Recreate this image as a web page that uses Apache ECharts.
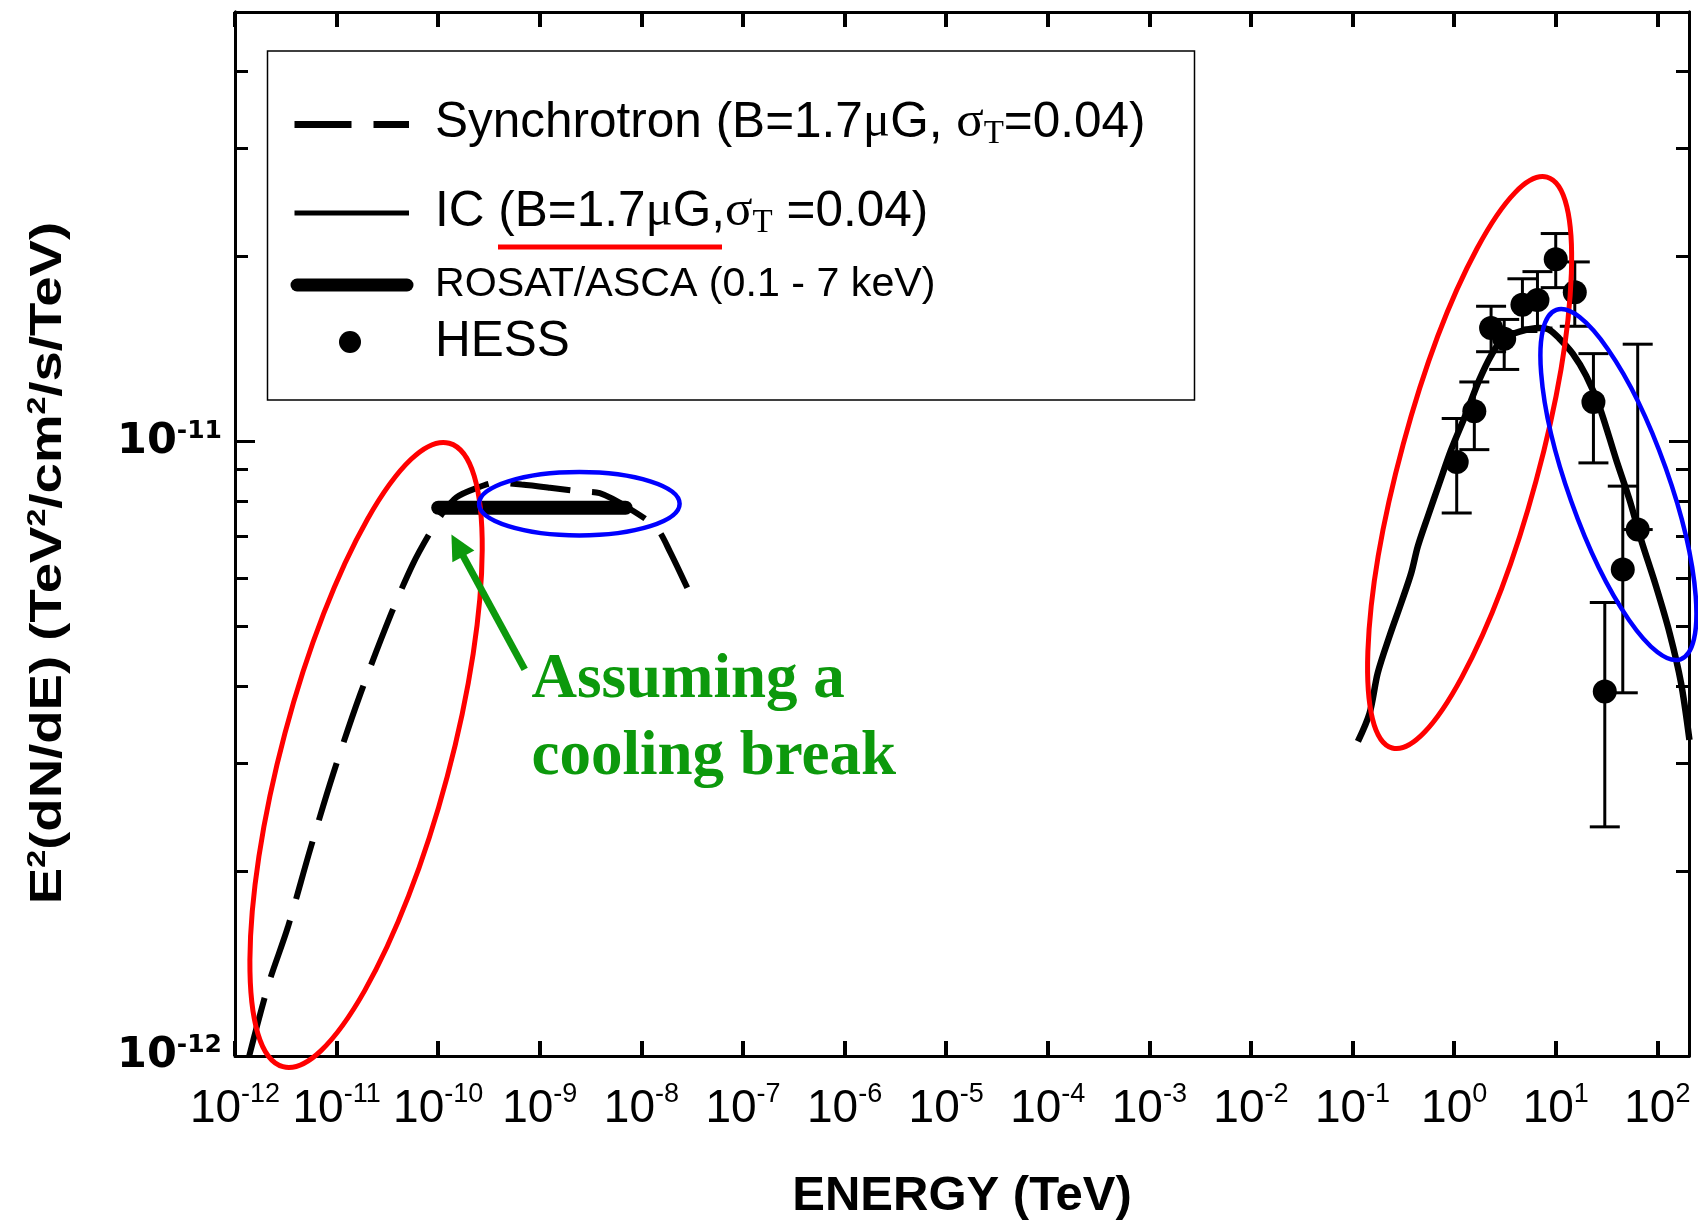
<!DOCTYPE html>
<html>
<head>
<meta charset="utf-8">
<title>SNR broadband SED</title>
<script src="https://cdn.jsdelivr.net/npm/echarts@6/dist/echarts.min.js"></script>
<style>
  html, body { margin: 0; padding: 0; background: #ffffff; }
  #chart { width: 1698px; height: 1231px; }
</style>
</head>
<body>
<div id="chart"></div>
<script>
// ---- Synchrotron model (B = 1.7 uG), energy in TeV, E^2 dN/dE in TeV/cm^2/s ----
const syncEnergy = [1.38e-12, 2.14e-12, 3.31e-12, 5.50e-12, 9.33e-12, 1.70e-11, 3.47e-11, 5.62e-11,
  8.13e-11, 1.12e-10, 1.51e-10, 2.34e-10, 3.72e-10, 6.61e-10, 1.26e-9, 2.40e-9, 3.89e-9, 7.41e-9,
  1.41e-8, 1.91e-8, 3.09e-8];
const syncFlux = [1.00e-12, 1.31e-12, 1.62e-12, 2.17e-12, 2.89e-12, 3.87e-12, 5.26e-12, 6.31e-12,
  7.06e-12, 7.67e-12, 8.11e-12, 8.39e-12, 8.57e-12, 8.51e-12, 8.41e-12, 8.30e-12, 8.24e-12, 7.80e-12,
  7.23e-12, 6.62e-12, 5.60e-12];

// ---- ROSAT/ASCA X-ray band (0.1 - 7 keV) ----
const rosatEnergy = [1e-10, 7e-9];
const rosatFlux = [7.8e-12, 7.8e-12];

// ---- Inverse Compton model ----
const icEnergy = [0.113, 0.147, 0.177, 0.231, 0.301, 0.378, 0.439, 0.551, 0.718, 0.935, 1.31, 1.77,
  2.31, 3.01, 4.40, 6.90, 8.67, 10.9, 14.7, 19.9, 26.9, 39.3, 53.1, 69.2, 97.2, 132, 171, 207];
const icFlux = [3.25e-12, 3.61e-12, 4.20e-12, 4.82e-12, 5.46e-12, 6.11e-12, 6.75e-12, 7.55e-12,
  8.57e-12, 9.70e-12, 1.11e-11, 1.26e-11, 1.38e-11, 1.47e-11, 1.51e-11, 1.53e-11, 1.52e-11, 1.47e-11,
  1.39e-11, 1.28e-11, 1.14e-11, 9.35e-12, 8.05e-12, 6.92e-12, 5.81e-12, 4.88e-12, 4.05e-12, 3.27e-12];

// ---- HESS spectral points with error bars ----
const hessEnergy = [1.06, 1.58, 2.31, 3.11, 4.70, 6.61, 10.0, 15.4, 23.5, 30.4, 45.7, 64.1];
const hessFlux = [9.26e-12, 1.12e-11, 1.53e-11, 1.47e-11, 1.67e-11, 1.70e-11, 1.98e-11, 1.75e-11,
  1.16e-11, 3.92e-12, 6.19e-12, 7.19e-12];
const hessLow = [7.65e-12, 9.70e-12, 1.40e-11, 1.31e-11, 1.51e-11, 1.53e-11, 1.78e-11, 1.54e-11,
  9.23e-12, 2.36e-12, 3.90e-12, 7.19e-12];
const hessHigh = [1.09e-11, 1.25e-11, 1.66e-11, 1.58e-11, 1.84e-11, 1.89e-11, 2.18e-11, 1.96e-11,
  1.39e-11, 5.47e-12, 8.46e-12, 1.44e-11];

// ---- Axis ticks ----
const xTicks = [1e-12, 1e-11, 1e-10, 1e-9, 1e-8, 1e-7, 1e-6, 1e-5, 1e-4, 1e-3, 1e-2, 1e-1, 1e0, 1e1, 1e2];
const xTickExponents = ['-12', '-11', '-10', '-9', '-8', '-7', '-6', '-5', '-4', '-3', '-2', '-1', '0', '1', '2'];
const yMajorTicks = [1e-12, 1e-11];
const yMajorExponents = ['-12', '-11'];
const yMinorTicks = [2e-12, 3e-12, 4e-12, 5e-12, 6e-12, 7e-12, 8e-12, 9e-12, 2e-11, 3e-11, 4e-11];

// ---- Annotation anchors (data coordinates) ----
const redLeftCenter = [1.95e-11, 3.09e-12];
const blueLeftCenter = [2.45e-9, 7.92e-12];
const redRightCenter = [1.42, 9.24e-12];
const blueRightCenter = [41.4, 8.51e-12];
const arrowTip = [1.35e-10, 7.06e-12];

const X_MIN = 1e-12, X_MAX = 205, Y_MIN = 1e-12, Y_MAX = 5e-11;
const GREEN = '#0c990c';

// Narrow sans is preferred for the energy tick labels; fall back to the regular face.
const hasNarrow = (function () {
  const ctx = document.createElement('canvas').getContext('2d');
  ctx.font = '50px "Liberation Sans Narrow", monospace';
  const a = ctx.measureText('10abcWm').width;
  ctx.font = '50px monospace';
  const b = ctx.measureText('10abcWm').width;
  return Math.abs(a - b) > 0.5;
})();
const tickFamily = hasNarrow ? '"Liberation Sans Narrow"' : '"Liberation Sans"';
const tickSize = hasNarrow ? 53 : 46;
const tickSupSize = hasNarrow ? 31 : 27;

const zip = (xs, ys) => xs.map((x, i) => [x, ys[i]]);

const chart = echarts.init(document.getElementById('chart'), null, { renderer: 'canvas' });

const axisLineStyle = { show: true, lineStyle: { color: '#000', width: 3 } };

function xAxisBase(position) {
  return {
    type: 'log', logBase: 10, min: X_MIN, max: X_MAX, position: position,
    splitLine: { show: false }, minorTick: { show: false }, minorSplitLine: { show: false },
    axisLine: axisLineStyle,
    axisTick: { show: true, inside: true, length: 15, lineStyle: { color: '#000', width: 4 }, customValues: xTicks },
    axisLabel: { show: false }
  };
}

function yAxisBase(position, ticks, len, withLabels) {
  const ax = {
    type: 'log', logBase: 10, min: Y_MIN, max: Y_MAX, position: position,
    splitLine: { show: false }, minorTick: { show: false }, minorSplitLine: { show: false },
    axisLine: axisLineStyle,
    axisTick: { show: true, inside: true, length: len, lineStyle: { color: '#000', width: 3 }, customValues: ticks },
    axisLabel: { show: false }
  };
  if (withLabels) {
    ax.axisLabel = {
      show: true, customValues: ticks, margin: 13,
      formatter: function (v) {
        const i = yMajorTicks.findIndex(t => Math.abs(Math.log10(t) - Math.log10(v)) < 1e-6);
        return '{b|10}{s|' + (i >= 0 ? yMajorExponents[i] : '') + '}';
      },
      rich: {
        b: { fontFamily: '"DejaVu Sans"', fontWeight: 'bold', fontSize: 43, color: '#000', lineHeight: 46 },
        s: { fontFamily: '"DejaVu Sans"', fontWeight: 'bold', fontSize: 25, color: '#000', verticalAlign: 'top', lineHeight: 30 }
      }
    };
  }
  return ax;
}

const xBottom = xAxisBase('bottom');
xBottom.axisLabel = {
  show: true, customValues: xTicks, margin: 25,
  formatter: function (v) {
    const i = xTicks.findIndex(t => Math.abs(Math.log10(t) - Math.log10(v)) < 1e-6);
    return '{b|10}{s|' + (i >= 0 ? xTickExponents[i] : '') + '}';
  },
  rich: {
    b: { fontFamily: tickFamily, fontSize: tickSize, color: '#000', lineHeight: 56 },
    s: { fontFamily: tickFamily, fontSize: tickSupSize, color: '#000', verticalAlign: 'top', lineHeight: 34 }
  }
};
xBottom.name = 'ENERGY (TeV)';
xBottom.nameLocation = 'middle';
xBottom.nameGap = 116;
xBottom.nameTextStyle = {
  fontFamily: hasNarrow ? '"Liberation Sans Narrow"' : '"Liberation Sans"',
  fontWeight: 'bold', fontSize: hasNarrow ? 58 : 49, color: '#000'
};

const option = {
  animation: false,
  backgroundColor: '#ffffff',
  grid: { left: 235, right: 9, top: 12, bottom: 175, containLabel: false },
  xAxis: [xBottom, xAxisBase('top')],
  yAxis: [
    yAxisBase('left', yMajorTicks, 20, true),
    yAxisBase('left', yMinorTicks, 13, false),
    yAxisBase('right', yMajorTicks, 20, false),
    yAxisBase('right', yMinorTicks, 13, false)
  ],
  series: [
    {
      name: 'Synchrotron', type: 'line', xAxisIndex: 0, yAxisIndex: 0,
      data: zip(syncEnergy, syncFlux), showSymbol: false, smooth: 0.3, silent: true, z: 2,
      lineStyle: { color: '#000', width: 6, type: [60, 22], cap: 'butt', opacity: 1 },
      emphasis: { disabled: true }
    },
    {
      name: 'ROSAT/ASCA', type: 'line', xAxisIndex: 0, yAxisIndex: 0,
      data: zip(rosatEnergy, rosatFlux), showSymbol: false, silent: true, z: 3,
      lineStyle: { color: '#000', width: 14, cap: 'round', opacity: 1 },
      emphasis: { disabled: true }
    },
    {
      name: 'IC', type: 'line', xAxisIndex: 0, yAxisIndex: 0,
      data: zip(icEnergy, icFlux), showSymbol: false, smooth: 0.3, silent: true, z: 3,
      lineStyle: { color: '#000', width: 6.5, opacity: 1 },
      emphasis: { disabled: true }
    },
    {
      name: 'HESS error', type: 'custom', xAxisIndex: 0, yAxisIndex: 0, silent: true, z: 4,
      data: hessEnergy.map((e, i) => [e, hessLow[i], hessHigh[i]]),
      encode: { x: 0, y: [1, 2] },
      renderItem: function (params, api) {
        const e = api.value(0);
        const lo = api.coord([e, api.value(1)]);
        const hi = api.coord([e, api.value(2)]);
        const cap = 15;
        const st = { stroke: '#000', lineWidth: 3 };
        return {
          type: 'group',
          children: [
            { type: 'line', shape: { x1: lo[0], y1: lo[1], x2: hi[0], y2: hi[1] }, style: st },
            { type: 'line', shape: { x1: hi[0] - cap, y1: hi[1], x2: hi[0] + cap, y2: hi[1] }, style: st },
            { type: 'line', shape: { x1: lo[0] - cap, y1: lo[1], x2: lo[0] + cap, y2: lo[1] }, style: st }
          ]
        };
      }
    },
    {
      name: 'HESS', type: 'scatter', xAxisIndex: 0, yAxisIndex: 0,
      data: zip(hessEnergy, hessFlux), symbol: 'circle', symbolSize: 24, silent: true, z: 5,
      itemStyle: { color: '#000', opacity: 1 },
      emphasis: { disabled: true }
    }
  ]
};

chart.setOption(option);

// ---- Legend box, axis title and annotations ----
function buildGraphics() {
  const px = v => chart.convertToPixel({ xAxisIndex: 0, yAxisIndex: 0 }, v);
  const els = [];
  const legendFont = '"Liberation Sans"';

  // legend frame
  els.push({ type: 'rect', shape: { x: 267.5, y: 51, width: 927, height: 349 },
    style: { fill: '#fff', stroke: '#000', lineWidth: 1.5 }, z: 50 });

  // legend samples
  els.push({ type: 'line', shape: { x1: 294.5, y1: 124.5, x2: 409, y2: 124.5 },
    style: { stroke: '#000', lineWidth: 7, lineDash: [57, 22] }, z: 51 });
  els.push({ type: 'line', shape: { x1: 294.5, y1: 213, x2: 409, y2: 213 },
    style: { stroke: '#000', lineWidth: 5 }, z: 51 });
  els.push({ type: 'line', shape: { x1: 297, y1: 285, x2: 407, y2: 285 },
    style: { stroke: '#000', lineWidth: 13, lineCap: 'round' }, z: 51 });
  els.push({ type: 'circle', shape: { cx: 350, cy: 342, r: 11 }, style: { fill: '#000' }, z: 51 });

  const richLegend = {
    t: { fontFamily: legendFont, fontSize: 49.5, lineHeight: 56, fill: '#000', color: '#000' },
    g: { fontFamily: '"Liberation Serif"', fontSize: 51, lineHeight: 56, fill: '#000', color: '#000' },
    sub: { fontFamily: '"Liberation Serif"', fontSize: 33, lineHeight: 18, verticalAlign: 'bottom', fill: '#000', color: '#000' }
  };
  function legendText(y, text, rich) {
    return { type: 'text', x: 435, y: y, z: 52,
      style: { text: text, rich: rich, align: 'left', verticalAlign: 'middle',
        textAlign: 'left', textVerticalAlign: 'middle', fill: '#000' } };
  }
  els.push(legendText(123, '{t|Synchrotron (B=1.7}{g|μ}{t|G, }{g|σ}{sub|T}{t|=0.04)}', richLegend));
  els.push(legendText(212, '{t|IC (B=1.7}{g|μ}{t|G,}{g|σ}{sub|T}{t| =0.04)}', richLegend));
  els.push(legendText(285, '{r|ROSAT/ASCA (0.1 - 7 keV)}', {
    r: { fontFamily: legendFont, fontSize: 41.2, lineHeight: 46, fill: '#000', color: '#000' } }));
  els.push(legendText(342, '{t|HESS}', richLegend));

  // red underline in the legend
  els.push({ type: 'line', shape: { x1: 498, y1: 247, x2: 722, y2: 247 },
    style: { stroke: '#ff0000', lineWidth: 5 }, z: 53 });

  // y axis title
  els.push({
    type: 'text', x: 49, y: 563, rotation: Math.PI / 2, scaleX: 1.24, z: 50,
    style: {
      text: '{t|E}{s|2}{t|(dN/dE) (TeV}{s|2}{t|/cm}{s|2}{t|/s/TeV)}',
      rich: {
        t: { fontFamily: legendFont, fontWeight: 'bold', fontSize: 44, lineHeight: 48, fill: '#000', color: '#000' },
        s: { fontFamily: legendFont, fontWeight: 'bold', fontSize: 26, lineHeight: 28, verticalAlign: 'top', fill: '#000', color: '#000' }
      },
      align: 'center', verticalAlign: 'middle', textAlign: 'center', textVerticalAlign: 'middle'
    }
  });

  // highlight ellipses
  function ellipse(center, rx, ry, rot, color, w) {
    const c = px(center);
    return { type: 'ellipse', x: c[0], y: c[1], rotation: rot, z: 60, silent: true,
      shape: { cx: 0, cy: 0, rx: rx, ry: ry },
      style: { fill: 'none', stroke: color, lineWidth: w } };
  }
  els.push(ellipse(redLeftCenter, 84, 322.6, -0.2606, '#ff0000', 5));
  els.push(ellipse(blueLeftCenter, 100.3, 31.7, 0, '#0000ff', 4.5));
  els.push(ellipse(redRightCenter, 68.9, 295.7, -0.2648, '#ff0000', 5));
  els.push(ellipse(blueRightCenter, 50.1, 185.4, 0.3416, '#0000ff', 4.5));

  // green arrow pointing at the cooling break
  const tip = px(arrowTip);
  const tail = [tip[0] + 73.3, tip[1] + 135];
  const dx = tip[0] - tail[0], dy = tip[1] - tail[1];
  const len = Math.sqrt(dx * dx + dy * dy);
  const ux = dx / len, uy = dy / len;
  const headLen = 25, headHalf = 12.5;
  const base = [tip[0] - ux * headLen, tip[1] - uy * headLen];
  els.push({ type: 'line', z: 61, shape: { x1: tail[0], y1: tail[1], x2: base[0] + ux * 2, y2: base[1] + uy * 2 },
    style: { stroke: GREEN, lineWidth: 7 } });
  els.push({ type: 'polygon', z: 61, shape: { points: [
      tip,
      [base[0] - uy * headHalf, base[1] + ux * headHalf],
      [base[0] + uy * headHalf, base[1] - ux * headHalf]
    ] }, style: { fill: GREEN } });

  const noteStyle = { font: 'bold 63px "Liberation Serif"', fill: GREEN, align: 'left', verticalAlign: 'middle',
    textAlign: 'left', textVerticalAlign: 'middle' };
  els.push({ type: 'text', z: 61, x: tip[0] + 80, y: tip[1] + 146,
    style: Object.assign({ text: 'Assuming a' }, noteStyle) });
  els.push({ type: 'text', z: 61, x: tip[0] + 80, y: tip[1] + 223.6,
    style: Object.assign({ text: 'cooling break' }, noteStyle) });

  chart.setOption({ graphic: { elements: els } });
}

buildGraphics();
</script>
</body>
</html>
